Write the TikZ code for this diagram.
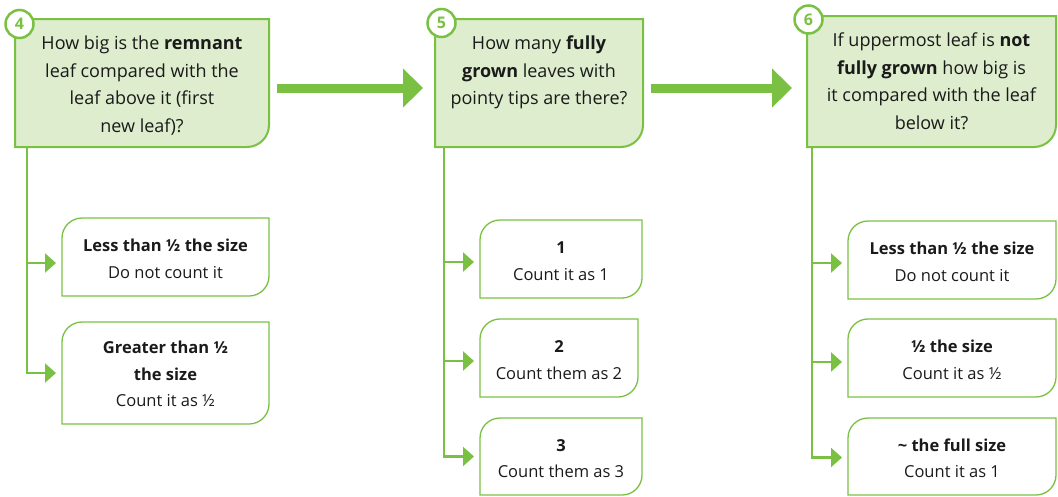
\documentclass[tikz,border=0pt]{standalone}
\usepackage{fontspec}
\setmainfont{Open Sans}
\usetikzlibrary{arrows.meta}
\definecolor{lgreen}{RGB}{122,193,67}
\definecolor{lfill}{RGB}{221,237,205}
\definecolor{ink}{RGB}{26,26,26}
\newcommand\hdrshape[1]{%
  \filldraw[hdrbox] (#1.north west) -- (#1.north east) -- ([yshift=22pt]#1.south east)
    arc[start angle=0,end angle=90,radius=22] -- (#1.south west) -- cycle;}
\newcommand\kidshape[1]{%
  \draw[kidbox] ([yshift=-20pt]#1.north west) arc[start angle=180,end angle=270,radius=20]
    -- (#1.north east) -- ([yshift=20pt]#1.south east)
    arc[start angle=0,end angle=90,radius=20] -- (#1.south west) -- cycle;}
\begin{document}
\begin{tikzpicture}[x=1pt,y=-1pt,
  hdrbox/.style={draw=lgreen, fill=lfill, line width=2pt},
  kidbox/.style={draw=lgreen, line width=1.3pt},
  frame/.style={inner sep=0pt, outer sep=0pt},
  hdrtext/.style={inner sep=0pt, anchor=north, align=center, text=ink,
    font=\fontsize{18}{27.5}\selectfont},
  kidtext/.style={inner sep=0pt, align=center, text=ink,
    font=\fontsize{16.5}{26.5}\selectfont},
  numcirc/.style={circle, draw=lgreen, fill=white, line width=2.5pt,
    minimum size=28pt, inner sep=0pt, text=lgreen, font=\fontsize{16}{16}\selectfont\bfseries},
  bigarrow/.style={draw=lgreen, line width=9pt, -{Triangle[length=20pt,width=38pt]}},
  branch/.style={draw=lgreen, line width=2.2pt, -{Triangle[length=11pt,width=19pt]}, shorten >=6pt}
]
\useasboundingbox (0,0) rectangle (1058,496);

% header frames
\node[frame, minimum width=254pt, minimum height=128pt] (h1) at (142,83) {};
\node[frame, minimum width=208pt, minimum height=128pt] (h2) at (539,83) {};
\node[frame, minimum width=249pt, minimum height=131pt] (h3) at (931.5,81.5) {};
\hdrshape{h1}\hdrshape{h2}\hdrshape{h3}

\node[hdrtext] (q1) at ([yshift=-17pt]h1.north) {How big is the \textbf{remnant}\\leaf compared with the\\leaf above it (first\\new leaf)?};
\node[hdrtext] (q2) at ([yshift=-17pt]h2.north) {How many \textbf{fully}\\\textbf{grown} leaves with\\pointy tips are there?};
\node[hdrtext] (q3) at ([yshift=-17pt]h3.north) {If uppermost leaf is \textbf{not}\\\textbf{fully grown} how big is\\it compared with the leaf\\below it?};

\node[numcirc] (n1) at (19.5,24) {4};
\node[numcirc] (n2) at (441.5,23) {5};
\node[numcirc] (n3) at (808.5,19.5) {6};

% child frames
\node[frame, minimum width=207pt, minimum height=78pt] (c11) at (165.5,257) {};
\node[frame, minimum width=207pt, minimum height=102pt] (c12) at (165.5,373) {};
\node[frame, minimum width=162pt, minimum height=78pt] (c21) at (561,259) {};
\node[frame, minimum width=158pt, minimum height=78pt] (c22) at (559,358) {};
\node[frame, minimum width=162pt, minimum height=77pt] (c23) at (561,456.5) {};
\node[frame, minimum width=208pt, minimum height=78pt] (c31) at (952,260) {};
\node[frame, minimum width=208pt, minimum height=78pt] (c32) at (952,358) {};
\node[frame, minimum width=208pt, minimum height=77pt] (c33) at (952,456.5) {};
\kidshape{c11}\kidshape{c12}\kidshape{c21}\kidshape{c22}\kidshape{c23}
\kidshape{c31}\kidshape{c32}\kidshape{c33}

\node[kidtext] (k11) at ([yshift=-2pt]c11.center) {\textbf{Less than ½ the size}\\Do not count it};
\node[kidtext] (k12) at ([yshift=-1pt]c12.center) {\textbf{Greater than ½}\\\textbf{the size}\\Count it as ½};
\node[kidtext] (k21) at ([yshift=-2pt]c21.center) {\textbf{1}\\Count it as 1};
\node[kidtext] (k22) at ([yshift=-2pt]c22.center) {\textbf{2}\\Count them as 2};
\node[kidtext] (k23) at ([yshift=-2pt]c23.center) {\textbf{3}\\Count them as 3};
\node[kidtext] (k31) at ([yshift=-2pt]c31.center) {\textbf{Less than ½ the size}\\Do not count it};
\node[kidtext] (k32) at ([yshift=-2pt]c32.center) {\textbf{½ the size}\\Count it as ½};
\node[kidtext] (k33) at ([yshift=-2pt]c33.center) {\textbf{\textasciitilde{} the full size}\\Count it as 1};

% trunk starts
\coordinate (s1) at ([xshift=12pt]h1.south west);
\coordinate (s2) at ([xshift=9pt]h2.south west);
\coordinate (s3) at ([xshift=5pt]h3.south west);

% branches
\draw[branch] (s1) |- ([yshift=-6pt]c11.west);
\draw[branch] (s1) |- (c12.west);
\draw[branch] (s2) |- ([yshift=-3pt]c21.west);
\draw[branch] (s2) |- ([yshift=-3pt]c22.west);
\draw[branch] (s2) |- (c23.west);
\draw[branch] (s3) |- ([yshift=-3pt]c31.west);
\draw[branch] (s3) |- ([yshift=-4pt]c32.west);
\draw[branch] (s3) |- ([yshift=-1pt]c33.west);

% big arrows
\draw[bigarrow, shorten <=8pt, shorten >=12pt] ([yshift=-5pt]h1.east) -- ([yshift=-5pt]h1.east -| h2.west);
\draw[bigarrow, shorten <=8pt, shorten >=15pt] ([yshift=-5pt]h2.east) -- ([yshift=-5pt]h2.east -| h3.west);
\end{tikzpicture}
\end{document}
